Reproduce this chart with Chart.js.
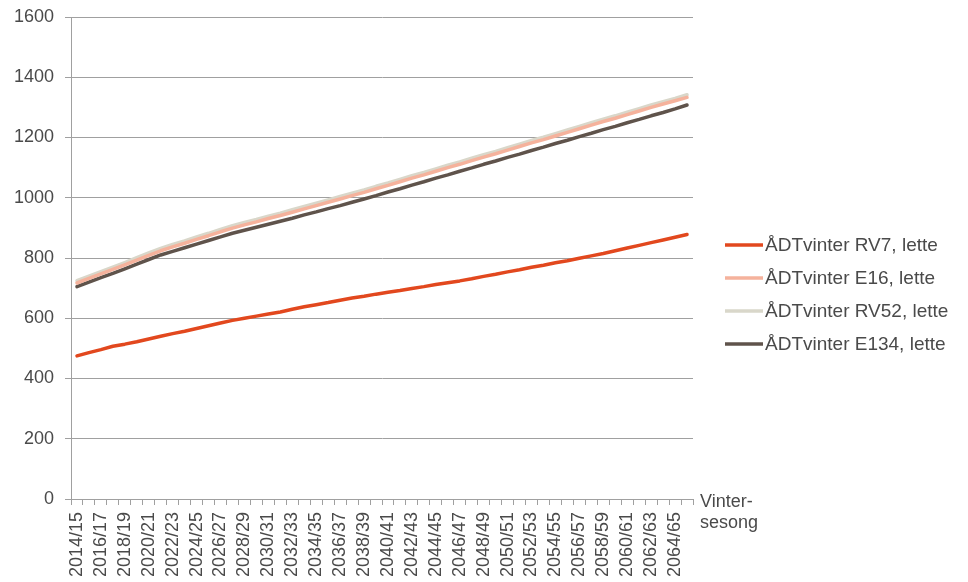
<!DOCTYPE html>
<html><head><meta charset="utf-8">
<script src="https://cdn.jsdelivr.net/npm/chart.js@4/dist/chart.umd.min.js"></script>
<style>html,body{margin:0;padding:0;background:#fff}#wrap{width:968px;height:582px}</style>
</head><body><div id="wrap"><canvas id="c" width="968" height="582"></canvas></div>
<script>
const seasons = ["2014/15","2015/16","2016/17","2017/18","2018/19","2019/20","2020/21","2021/22","2022/23","2023/24",
"2024/25","2025/26","2026/27","2027/28","2028/29","2029/30","2030/31","2031/32","2032/33","2033/34",
"2034/35","2035/36","2036/37","2037/38","2038/39","2039/40","2040/41","2041/42","2042/43","2043/44",
"2044/45","2045/46","2046/47","2047/48","2048/49","2049/50","2050/51","2051/52","2052/53","2053/54",
"2054/55","2055/56","2056/57","2057/58","2058/59","2059/60","2060/61","2061/62","2062/63","2063/64",
"2064/65","2065/66"];
const rv7 = [475,486,496,507,514,522,531,540,549,557,566,575,584,593,600,607,614,621,630,638,645,652,660,667,673,680,686,692,699,705,712,718,724,731,739,746,754,761,769,776,784,791,799,807,815,824,833,842,851,860,869,878];
const e16 = [717,732,747,762,777,793,809,824,837,849,862,874,887,899,910,920,931,941,952,963,974,985,996,1007,1018,1030,1041,1053,1065,1076,1088,1100,1111,1123,1135,1146,1158,1170,1182,1193,1205,1217,1229,1241,1253,1264,1276,1288,1300,1311,1322,1333];
const rv52 = [725,740,755,770,785,801,817,832,845,857,870,882,895,907,918,928,939,949,960,971,982,993,1004,1015,1026,1038,1049,1061,1073,1084,1096,1108,1119,1131,1143,1154,1166,1178,1190,1201,1213,1225,1237,1249,1261,1272,1284,1296,1308,1319,1330,1342];
const e134 = [705,720,735,749,764,780,795,810,822,834,846,858,870,882,892,902,912,922,932,943,953,964,974,985,996,1007,1019,1030,1042,1053,1065,1076,1088,1099,1111,1122,1134,1145,1157,1168,1180,1191,1203,1214,1226,1237,1249,1260,1272,1283,1295,1308];
const seriesNames = ["ÅDTvinter RV7, lette","ÅDTvinter E16, lette","ÅDTvinter RV52, lette","ÅDTvinter E134, lette"];
const axisTitle = ["Vinter-","sesong"];

const FONT = '"Liberation Sans", Arial, sans-serif';
const TEXT = '#4a4a4a';
const GRID = '#a0a0a0';

const customLegend = {
  id: 'customLegend',
  afterDraw(chart) {
    const ctx = chart.ctx;
    ctx.save();
    ctx.font = '19px ' + FONT;
    ctx.textBaseline = 'middle';
    ctx.textAlign = 'left';
    const x0 = chart.chartArea.right + 32;
    const y0 = 245, dy = 33;
    chart.data.datasets.forEach((ds, i) => {
      const y = y0 + i * dy;
      ctx.strokeStyle = ds.borderColor;
      ctx.lineWidth = 3.5;
      ctx.beginPath(); ctx.moveTo(x0, y); ctx.lineTo(x0 + 38, y); ctx.stroke();
      ctx.fillStyle = TEXT;
      ctx.fillText(ds.label, x0 + 40, y + 1);
    });
    ctx.font = '18px ' + FONT;
    ctx.fillText(axisTitle[0], chart.chartArea.right + 7, chart.chartArea.bottom + 3);
    ctx.fillText(axisTitle[1], chart.chartArea.right + 7, chart.chartArea.bottom + 24);
    ctx.restore();
  }
};

new Chart(document.getElementById('c'), {
  type: 'line',
  data: {
    labels: seasons,
    datasets: [
      {label: seriesNames[0], data: rv7, borderColor: '#e2481e'},
      {label: seriesNames[1], data: e16, borderColor: '#f5b29c'},
      {label: seriesNames[2], data: rv52, borderColor: '#d9d7ca'},
      {label: seriesNames[3], data: e134, borderColor: '#5f534b'}
    ].map(d => Object.assign(d, {borderWidth: 3.5, pointRadius: 0, tension: 0, fill: false, borderCapStyle: 'round', borderJoinStyle: 'round'}))
  },
  options: {
    responsive: false,
    devicePixelRatio: 1,
    animation: false,
    layout: {padding: {top: 17, right: 275, left: 0, bottom: 0}},
    plugins: {legend: {display: false}, tooltip: {enabled: false}},
    scales: {
      x: {
        offset: true,
        grid: {display: true, drawOnChartArea: false, offset: true, color: GRID, tickLength: 6, lineWidth: 1},
        border: {display: true, color: GRID, width: 1},
        ticks: {
          autoSkip: false, maxRotation: 90, minRotation: 90, padding: 7,
          color: TEXT, font: {family: FONT, size: 18},
          callback: function(v, i) { return i % 2 === 0 ? this.getLabelForValue(v) : ''; }
        },
        afterFit(s) { s.height = 83; s.paddingLeft = 0; s.paddingRight = 0; }
      },
      y: {
        min: 0, max: 1600,
        grid: {color: GRID, lineWidth: 1, tickLength: 6},
        border: {display: true, color: GRID, width: 1},
        ticks: {stepSize: 200, color: TEXT, font: {family: FONT, size: 18}, padding: 11,
          callback: v => String(v)},
        afterFit(s) { s.width = 71; s.paddingTop = 0; s.paddingBottom = 0; }
      }
    }
  },
  plugins: [customLegend]
});
</script></body></html>
